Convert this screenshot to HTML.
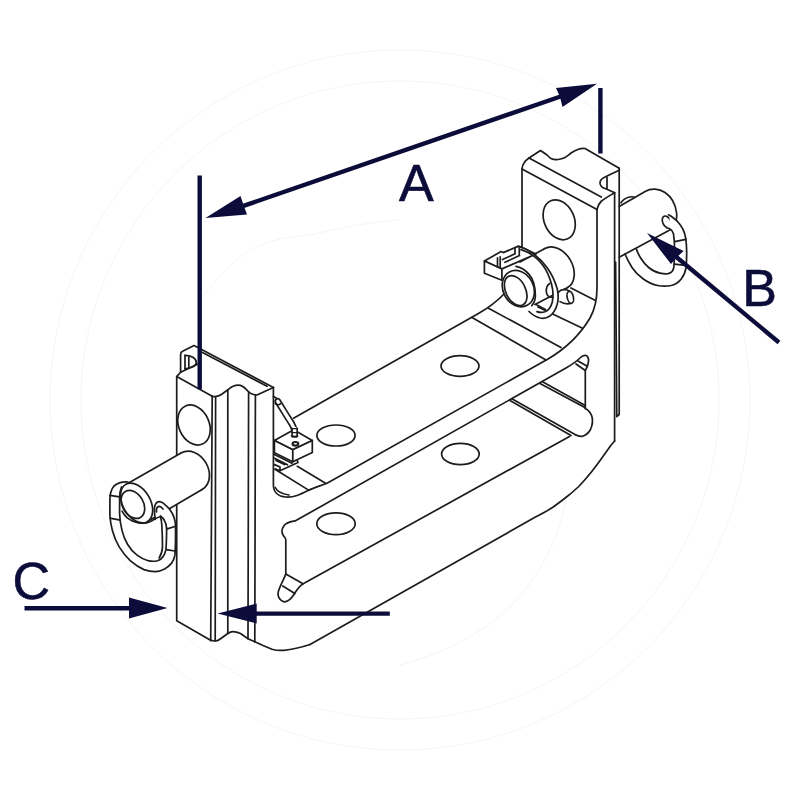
<!DOCTYPE html>
<html><head><meta charset="utf-8"><title>Bracket dimensions</title>
<style>
html,body{margin:0;padding:0;background:#fff;}
body{width:800px;height:800px;overflow:hidden;}
svg{display:block;}
.l{fill:none;stroke:#1c1c1c;stroke-width:1.7;stroke-linecap:round;stroke-linejoin:round;}
.w{fill:#fff;stroke:#1c1c1c;stroke-width:1.7;stroke-linecap:round;stroke-linejoin:round;}
.t{fill:none;stroke:#2a2a2a;stroke-width:0.9;stroke-linecap:round;stroke-linejoin:round;}
.d{fill:none;stroke:#0c0c3a;stroke-width:4.4;stroke-linecap:butt;}
.a{fill:#0c0c3a;stroke:none;}
.wm{fill:none;stroke:#f5f5f5;stroke-width:1;}
text{font-family:"Liberation Sans",sans-serif;fill:#0c0c3a;stroke:#0c0c3a;stroke-width:0.6;}
</style></head><body>
<svg width="800" height="800" viewBox="0 0 800 800">
<rect width="800" height="800" fill="#fff"/>
<!-- WATERMARK -->
<g id="wm" class="wm"><circle cx="400" cy="400" r="319"/><circle cx="400" cy="400" r="350"/><path d="M400 665C440 655 480 635 510 607C540 577 558 540 566 500M200 300C215 280 232 262 250 250C270 240 290 236 310 235C340 228 370 222 400 220"/></g>
<!-- DRAWING -->
<g id="drawing">
<!-- ===== right pin (behind right bracket) + ring ===== -->
<g id="rpin">
<path class="l" d="M621 202.8C623 199.5 626 197.8 629.5 197C633 196.3 636.5 197.5 638.5 199.5"/>
<path class="w" d="M619.2 206.6L645.6 191.3C651 188 659 188.5 665 192.5C671 196.5 675.5 204 676.6 213C677 217 676.5 221 675 224C673.5 227.5 671 229.8 668.4 230.7L619.2 257.2"/>
<ellipse class="w" cx="666.7" cy="221.9" rx="4" ry="6.2" transform="rotate(-25 666.7 221.9)"/>
<path fill="#fff" d="M668.5 214.6C673 216.5 677.5 220.5 680.2 224.7L686 240L674.5 242C674.5 238 674 235 673.5 233.7C673 231.5 671.8 230 670 229C668.5 228 667.5 227.8 666.5 228C669 226 671 222 668.5 214.6Z"/>
<path class="l" d="M625 254C627 259 629.5 263.5 632 267.5C635 272 639 276 643 278.7C647.5 282 652.5 284.5 657.7 285.5C662 286.3 667 286.3 671.2 285.5C675.5 284.3 679 282 681.4 278.7C684 275.5 685.5 271.5 686 267.5C686.8 260 686.8 252 686.4 245C686.2 241 685.7 237 684.7 233.7C683.7 230.3 682.2 227.3 680.2 224.7C678.3 222 676 219.8 673.5 218C672 216.8 670.5 215.6 668.5 214.8"/>
<path class="l" d="M636.4 249C637.5 252.5 639 255.5 641 258.5C643 261.8 645.7 265 648.7 267.5C652 270.3 656 272.3 660 273.1C662.7 273.7 665.5 274 668 273.7C670 273.3 671.5 272.3 672.4 271C673.5 269.3 674 267.3 674 265.2C674.8 255 675 244 673.5 233.7C673 231.5 671.8 230 670 229C669 228.3 668 228 667 228"/>
<path class="l" d="M674.6 241.6L685.9 239.4M674.5 264.1L685.5 265.4"/>
</g>
<!-- ===== right bracket ===== -->
<g id="rbracket">
<path class="l" d="M522 268V169C522.2 166 523 164.300 524 163C525.300 161 527 159.300 529 158L540.5 150.5C543.500 152.300 545.500 154 547 155C548.500 156.500 549.800 157.800 551 158.5C553.200 159.600 555.500 159.900 558 159.500C560.500 159.200 562.800 158.600 565 157.500C567.200 156.300 569 154.500 571 153C573.500 151.300 576 150 579 149C581 148.400 583 148.300 585 148.500L619.2 168.300"/>
<path class="l" d="M529 158L601.3 197"/>
<path class="l" d="M522 169L597 209.400"/>
<path class="l" d="M597 209.4C597.800 205.500 599.300 203 601.5 201C605 198.300 610 195.500 614.600 192.700"/>
<path class="l" d="M619.2 168.3V414.500L616.8 416.600L615.600 262"/>
<path class="l" d="M614.600 192.700V441"/>
<path class="l" d="M619.2 170.200L607 176C604 177.300 602.300 178.300 601.5 179.300C600.300 180.500 599.800 181.800 600 183.500C600.200 185 601 186.300 602.300 187.200C604 188.200 605.500 188.700 607 189.200L614.600 192.700"/>
<path class="l" d="M607 177V188.800"/>
<ellipse class="l" cx="559.2" cy="219.8" rx="15" ry="20.8" transform="rotate(-24 559.2 219.8)"/>
</g>
<!-- ===== upper & lower plates ===== -->
<g id="plates">
<!-- line a -->
<path class="l" d="M293.5 418.2L478 313.8C488 308.2 498 300.5 506 292C513 284.5 519 276 521.7 268"/>
<!-- line b with left rounded corner and right curve -->
<path class="l" d="M273.4 387.5V485C273.4 492 278 496.5 286 497C294 497.5 300 494.5 308 490.5C314 487.6 320 486 327 483.2L548 359C565 349 580 335 590 318C595 309 597 300 597 288V209.3"/>
<!-- line c with bump left & dogbone right -->
<path class="l" d="M285.8 574V540C285.8 538 284.5 537.2 283.5 535.8C281.5 533 281.5 529 284.3 525.3C287 522 291 521.5 295.5 520.8L566 368C572 364.5 577 361 580 358C582 356 584 354.8 586 355.5C588.5 356.5 589 360 588 364C587.5 367 586 369 585.3 370.5V408.5"/>
<path class="l" d="M576 364L585.3 370.5M578 361L587.3 366.3"/>
<!-- dogbone lower-left + line e -->
<path class="l" d="M285.8 574C284.5 578 280.5 585 278.5 591C277 596 279.5 601 284.3 601.8C288.5 602 292 598 295.5 592C298.5 587.5 301 584.5 304.5 583L569.5 436.4"/>
<path class="l" d="M285.8 574L303 583.8M282.8 586L294.8 593.5"/>
<!-- holes -->
<ellipse class="l" cx="336" cy="435.5" rx="19.1" ry="10.5"/>
<ellipse class="l" cx="460" cy="366" rx="19" ry="10.4"/>
<ellipse class="l" cx="460.4" cy="454" rx="18.8" ry="10.7"/>
<ellipse class="l" cx="336" cy="523.8" rx="19.2" ry="10.9"/>
<!-- bend lines right -->
<path class="l" d="M472 317.5L546 360M488 308L561 347.5M538 307L582 328M571 288L594.5 300"/>
<!-- bend lines left -->
<path class="l" d="M297.3 466.3L326 483.4M275 469.2L309 490.4M275.300 487.500C276.800 491 280.500 493.600 289 495"/>
<!-- rod -->
<path class="l" d="M539.5 383.3L585.3 407.8M542.5 381.7L585.3 405.5"/>
<path class="l" d="M585.3 408.5C588 410 590.5 412.5 591.8 416C593 420 592.5 425 590.5 429.5C588.5 433 586 435.5 582 436.3C579.5 436.7 577.5 436 575.5 434.8"/>
<path class="l" d="M512.3 398.9L575.5 434.8M510 400.5L571 435.6"/>
<!-- outer bottom silhouette -->
<path class="l" d="M614.6 441C613 443 611.5 444.5 610.25 446.25C607.5 450 604.5 454.5 601.5 458.5C598 463.5 594.5 468 591 472.5C587 477.5 583 482 578.75 486.5C575 490 571 493.500 566.5 497C562 500.5 557.5 504 552.5 507.5C547 511 541 514.2 535 517.3L310 644.5"/>
</g>
<!-- ===== left bracket ===== -->
<g id="lbracket">
<path class="l" d="M180.6 372.2L176.700 376.6V620.8L210.6 640.3"/>
<path class="l" d="M176.700 376.6L212.2 396.300"/>
<path class="l" d="M197.5 364.3L180.6 372.2V354.5Q180.6 352.3 182.6 351.3L194 345.6L273.4 387.5"/>
<path class="l" d="M202.5 352.5L267 386.300"/>
<path class="l" d="M185 355.3V368.8M188.8 357.2V367.3"/>
<path class="l" d="M185 355.3C191 355.3 196.3 358 196.3 362.6C196.3 366 191 368.3 185 368.8"/>
<path class="l" d="M212.2 396.300C216 397 219.5 396 221.8 394.3L227.8 389.8C231 387 234.5 385.2 238.3 385.2C242.5 385.2 245 388 247.3 390.5C249.5 393 252.5 395 257 395L273.4 387.5"/>
<path class="l" d="M212.2 396.300L210.7 640.4M215.6 397.300L215.2 640.8M227.8 389.8V633.5M248.6 391.8L248 638.6M255.4 394.8L254.8 641.8"/>
<path class="l" d="M210.6 640.3L215 641C217 641 218.5 640.3 219.5 639.5L227.8 633.5C230 632 232 631.5 233.5 631.7C236 632 238.5 632.5 240.5 633.5L248 638.7L254.8 641.8L263 645.5L272 649.2C276 650.4 280 650.6 284 650.3C292 649.6 300 647.8 310 644.5"/>
<ellipse class="l" cx="194" cy="425" rx="15.2" ry="20.8" transform="rotate(-24 194 425)"/>
</g>
<!-- ===== left clip (cable + box) ===== -->
<g id="lclip">
<path class="l" d="M274.4 454.5L292 463.2M274.6 458.2L287.5 464.8M276 460.5L284.5 464.6M274.6 464.6L280 467V470.8L275.5 469M280 470.8L298 462.4L297 460.2"/>
<path class="l" d="M273.4 396.5L276.5 398.2"/>
<path d="M277.8 401.4L285 413C288 418 290.500 421.500 292.2 424.500C294 427.500 294.6 430 294.6 433V436" fill="none" stroke="#1c1c1c" stroke-width="6.8" stroke-linecap="round"/>
<path d="M277.8 401.4L285 413C288 418 290.500 421.500 292.2 424.500C294 427.500 294.6 430 294.6 433V437" fill="none" stroke="#fff" stroke-width="3.4" stroke-linecap="round"/>
<path class="l" d="M275.2 403.2C276 405 279 405.300 280.600 403.600"/>
<path class="l" d="M291.8 428.6H297.4M291.8 432.8H297.4" stroke-width="1.2"/>
<path class="w" d="M274.4 440.4L293.7 429.8L312.3 440.4L292.8 449.8Z"/>
<path d="M294.6 428V436" fill="none" stroke="#1c1c1c" stroke-width="6.8"/>
<path d="M294.6 427V435.6" fill="none" stroke="#fff" stroke-width="3.4"/>
<path class="l" d="M291.6 436.2C293 437.2 296.2 437.2 297.6 436.2"/>
<path class="l" d="M291.8 428.6H297.4M291.8 432.6H297.4" style="stroke-width:1.2"/>
<path class="w" d="M274.4 440.4V452.8L292.8 461.8V449.8Z"/>
<path class="w" d="M292.8 449.8V461.8L312.3 452.4V440.4Z"/>
<ellipse class="l" cx="295.4" cy="443.8" rx="2.900" ry="1.800" style="stroke-width:2.1"/>
</g>
<!-- ===== left pin + D ring ===== -->
<g id="lpin">
<!-- ring part behind head -->
<path class="l" d="M128 482C122 481.6 117.5 483 114 486C111 489.5 109.9 494 109.9 500V515.3C110.2 520.5 111 525.5 112.4 530.4C114 536.5 116.3 542 119.2 546.9C122.3 552 126 556.6 130.2 560.7C134.3 564.3 139 567.5 144 569.6C147.6 570.8 151.2 571.5 154.9 571.6C158.3 571.5 161.6 570.5 164.6 568.9C167.3 567.5 169.6 565.6 171.4 563.4C173.2 561 174.4 558.2 174.9 555.2C175.5 549 175.6 535 175.5 525"/>
<path class="l" d="M121.5 487C120 490.5 119.6 494 119.6 498V514C119.8 519.5 120.6 525 122 530.4C123.2 535.5 125 540 127.5 544.2C130 548.5 133.2 552.2 137.1 555.2C140.5 557.8 144.2 559.7 148.1 560.7C151.3 561.4 154.6 561.5 157.7 560.7C160 560 161.9 558.6 163.2 556.5C164.5 554.5 165.4 552.2 165.9 549.7C166.5 543 166.6 535 166.6 527.7"/>
<path class="l" d="M109.9 495.4L119.5 496.9M110 518.1L120.2 520.1"/>
<!-- cylinder -->
<ellipse class="w" cx="192" cy="471" rx="16.1" ry="21" transform="rotate(-30 192 471)"/>
<path d="M126 484.4L181.500 452.8L202.5 489.2L147.5 521.6Z" fill="#fff"/>
<path class="l" d="M126 484.4L181.5 452.8M202.5 489.2L147.5 521.6"/>
<ellipse class="w" cx="136.6" cy="503" rx="13.8" ry="21.5" transform="rotate(-30 136.6 503)"/>
<ellipse class="l" cx="132.9" cy="504.4" rx="10.5" ry="15" transform="rotate(-30 132.9 504.4)"/>
<!-- ring loop in front -->
<path fill="#fff" d="M155.3 519.5C154.3 513 154 508.5 154.9 505.5C156 502.6 157.6 501.5 159.5 501.6C162 501.8 163.5 503 164.6 504.3C167 506.2 168.7 508 170 509.8C172 512.6 173.4 515.3 174.2 518C175 520.5 175.4 523 175.5 525L166.6 527.7C166.5 525.3 165.8 523 164.6 520.8C163.5 518.7 162.1 516.9 160.4 515.8L157 518.5Z"/>
<path class="l" d="M155.3 519.5C154.3 513 154 508.5 154.9 505.5C156 502.6 157.6 501.5 159.5 501.6C162 501.8 163.5 503 164.6 504.3C167 506.2 168.7 508 170 509.8C172 512.6 173.4 515.3 174.2 518C175 520.5 175.4 523 175.5 525"/>
<path class="l" d="M160.4 516C162.3 517.3 163.8 519.2 164.6 520.8C165.8 523 166.5 525.3 166.6 527.700"/>
<path class="l" d="M156.6 511.8C156.2 509.300 156.8 507.200 158.2 506.600C159.700 506.100 161.500 507.100 163 509"/>
<path class="l" d="M122 511.2C123.5 514 125.300 516.3 127.5 518.1C130.500 520.5 134.300 522.200 138.5 522.9C141.200 523.3 144 523.3 146.7 522.9C149.700 522.3 152.400 520.8 154.9 518.8C156.700 517.900 158.500 517.200 160.4 516.7"/>
<path class="l" d="M160.4 516.7C161.300 519.300 161.700 522.100 161.8 525C162.200 532 162.500 540 162.5 546.9C162.300 551 161.200 554.800 159.1 557.9"/>
<path class="l" d="M166.6 529.1L175.5 526.3M166.3 549.7L174.9 551"/>
</g>
<!-- ===== right front pin with R-clip ===== -->
<g id="fpin">
<!-- big sleeve -->
<ellipse class="w" cx="556.3" cy="268" rx="16.1" ry="22.6" transform="rotate(-30 556.3 268)"/>
<path d="M545 248.4L567.6 287.6L533.6 306L511 266.8Z" fill="#fff"/>
<path class="l" d="M545 248.4L520 262M567.6 287.6L535 304.6"/>
<!-- stub + loop -->
<path class="w" d="M558.8 292C561 289.300 565.500 288.800 569.800 291.200L571 303.400C567.500 304.300 563.500 303.800 560 301.600Z" style="stroke:none"/><path class="l" d="M558.8 292C561 289.300 565.500 288.800 569.800 291.200M560 301.600C563.500 303.800 567.500 304.300 571 303.400"/>
<ellipse class="w" cx="570.3" cy="297.3" rx="3.1" ry="6.1" transform="rotate(-12 570.3 297.3)"/>
<path class="l" d="M536 304.6L545.5 309.5"/>
<!-- block -->
<path class="w" d="M484.4 261L501 251.6L503.2 252.6L518.5 246.1L536 254L501.9 268.9Z"/>
<path class="w" d="M484.4 261V273.2L501.9 280.2V268.9Z"/>
<path class="l" d="M497.5 257.8V267M500.2 256.8V268.2M502.6 259.6L515 253.8M505 262.3L519.5 255.6M515 247.5V253.8M519.3 247.3V255.6"/>
<!-- R-clip ring -->
<path fill="#fff" d="M518.5 246.6C528 248.5 540 257.5 547 267.5C551 273 555 281 557.3 289C558.5 294.5 558.6 300 557 305C555.5 310 553 314 549.5 316.3C546.5 318.2 543 318.6 540 318C536 317 532 314.5 529 311.5L537 311.6C539.5 312.6 542 312.8 545 311.8C548.5 310.5 551 307 552.3 302C553.5 296 553 289.5 551.5 284C549.5 277 546.5 270 543 265.4C537.5 258 529 252 521 249.6Z"/>
<path class="l" d="M518.5 246.6C528 248.5 540 257.5 547 267.5C551 273 555 281 557.3 289C558.5 294.5 558.6 300 557 305C555.5 310 553 314 549.5 316.3C546.5 318.2 543 318.6 540 318C536 317 532 314.5 529 311.5"/>
<path class="l" d="M521 249.6C529 252 537.5 258 543 265.4C546.5 270 549.5 277 551.5 284C553 289.5 553.5 296 552.3 302C551 307 548.5 310.5 545 311.8C542 312.800 539.5 312.6 537 311.6"/>
<path class="l" d="M549.8 283.500C547.300 285 546 288.500 546.300 292C546.800 295.500 549 297.500 552.8 297.300"/>
<!-- collar -->
<path fill="#fff" d="M509.5 268C515 266 523.500 268.300 529.300 274.600C533.300 279.300 535.400 287 535.400 296C535.200 300 533.800 303.500 531.800 305.600L518 300Z"/><path class="l" d="M516 266.400C521 267.300 525.800 270.600 529.300 274.600C533.300 279.300 535.400 287 535.400 296C535.200 300 533.800 303.500 531.800 305.600"/>
<!-- head -->
<ellipse class="w" cx="518.3" cy="288.6" rx="15.2" ry="18.9" transform="rotate(-28 518.3 288.6)"/>
<ellipse class="l" cx="515.7" cy="290.6" rx="9.9" ry="16" transform="rotate(-26 515.7 290.6)"/>
</g>
</g>
<!-- DIMENSIONS -->
<g id="dims">
<path class="d" d="M199.700 175.5V389.200"/>
<path class="d" d="M600.4 88V153.5"/>
<path class="d" d="M242 206.4L562 96"/>
<path class="a" d="M205.5 218L240.5 196L243.5 205L247 214.5Z"/>
<path class="a" d="M597 83.7L556 88L560 97L562.5 107Z"/>
<path class="d" d="M779 342.5L674 255"/>
<path class="a" d="M647 233L683.6 251L677 257L671 264Z"/>
<path class="d" d="M24.5 608.3H132"/>
<path class="a" d="M167.5 608L129 597.5V618.5Z"/>
<path class="d" d="M389.8 613.6H254"/>
<path class="a" d="M217.6 613.6L256.7 603.6V623.4Z"/>
<text x="399" y="200.5" font-size="52">A</text>
<text x="742.2" y="305.5" font-size="52">B</text>
<text x="12.5" y="598.5" font-size="52">C</text>
</g>
</svg>
</body></html>
